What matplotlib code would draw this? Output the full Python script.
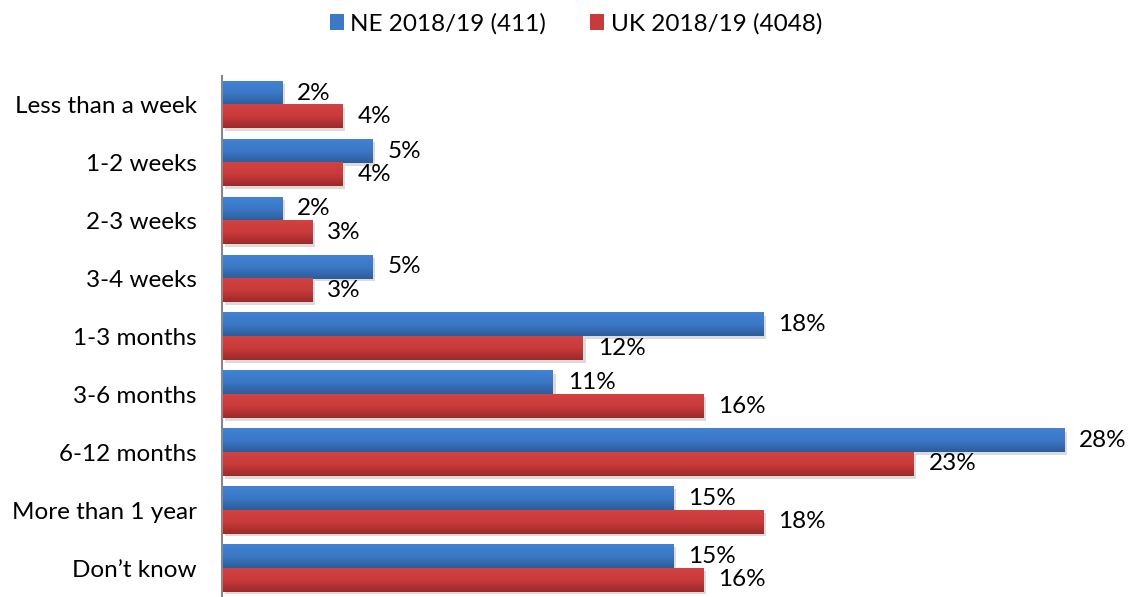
import numpy as np
import matplotlib
matplotlib.use("Agg")
import matplotlib.pyplot as plt
import matplotlib.patheffects as pe
from matplotlib.colors import LinearSegmentedColormap
from matplotlib.patches import Patch

categories = ["Less than a week", "1-2 weeks", "2-3 weeks", "3-4 weeks", "1-3 months",
              "3-6 months", "6-12 months", "More than 1 year", "Don\u2019t know"]
ne_values = [2, 5, 2, 5, 18, 11, 28, 15, 15]
uk_values = [4, 4, 3, 3, 12, 16, 23, 18, 16]
series_names = ["NE 2018/19 (411)", "UK 2018/19 (4048)"]

plt.rcParams['font.family'] = ['Lato', 'DejaVu Sans']

fig = plt.figure(figsize=(11.29, 5.97), dpi=100)
ax = fig.add_axes([0.1966, 0.0, 0.7991, 0.8727])

n = len(categories)
y = np.arange(n)
h = 0.405

blue_cmap = LinearSegmentedColormap.from_list("b", ["#2d5c9a", "#3b78c6", "#4282d4"])
red_cmap = LinearSegmentedColormap.from_list("r", ["#9c2a2a", "#c93a3a", "#d44242"])
grad = np.linspace(0, 1, 64).reshape(-1, 1)

shadow = [pe.SimplePatchShadow(offset=(2, -2), shadow_rgbFace="#999999", alpha=0.35), pe.Normal()]

for vals, off, cmap, col in [(ne_values, -h / 2, blue_cmap, "#3b78c6"),
                             (uk_values, h / 2, red_cmap, "#c93a3a")]:
    bars = ax.barh(y + off, vals, height=h, color=col, path_effects=shadow, zorder=2)
    for b, v in zip(bars, vals):
        x0, y0 = b.get_x(), b.get_y()
        ax.imshow(grad, cmap=cmap, aspect="auto", origin="lower",
                  extent=[x0, x0 + b.get_width(), y0 + b.get_height(), y0], zorder=3)
        ax.text(v + 0.5, y0 + b.get_height() / 2, f"{v}%", va="center", ha="left",
                fontsize=17.5, color="black", zorder=4)

ax.set_xlim(0, 30)
ax.set_ylim(n - 0.5, -0.5)
ax.set_yticks(y)
ax.set_yticklabels(categories, fontsize=17.5)
ax.tick_params(axis="y", length=0, pad=18)
ax.set_xticks([])
for s in ["top", "right", "bottom"]:
    ax.spines[s].set_visible(False)
ax.spines["left"].set_color("#888888")
ax.spines["left"].set_linewidth(1.5)
ax.spines["left"].set_zorder(5)

handles = [Patch(facecolor="#3b78c6"), Patch(facecolor="#c93a3a")]
fig.legend(handles, series_names, loc="upper center", bbox_to_anchor=(0.51, 1.015),
           ncol=2, frameon=False, fontsize=17.5, handlelength=0.6, handleheight=0.6,
           handletextpad=0.25, columnspacing=1.8)

fig.savefig("out.png", dpi=100)
